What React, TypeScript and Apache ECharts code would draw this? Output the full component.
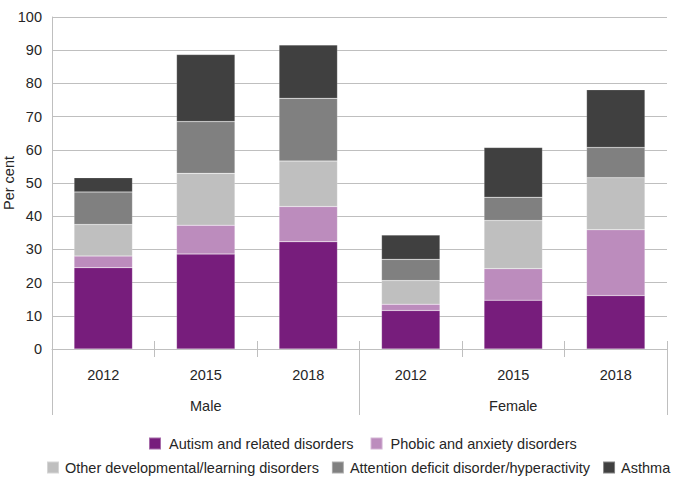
import React, { useEffect, useRef } from "react";
import * as echarts from "echarts";

const years = ["2012", "2015", "2018", "2012", "2015", "2018"];
const groups = ["Male", "Female"];
const seriesNames = [
  "Autism and related disorders",
  "Phobic and anxiety disorders",
  "Other developmental/learning disorders",
  "Attention deficit disorder/hyperactivity",
  "Asthma",
];
const autism = [24.5, 28.6, 32.3, 11.6, 14.7, 16.1];
const phobic = [3.5, 8.7, 10.6, 1.9, 9.5, 19.8];
const otherDev = [9.5, 15.6, 13.7, 7.1, 14.5, 15.7];
const adhd = [9.8, 15.6, 18.9, 6.4, 7.0, 9.1];
const asthma = [4.3, 20.2, 16.1, 7.3, 15.0, 17.4];
const yTicks = { min: 0, max: 100, interval: 10 };

const colors = ["#771d7c", "#bc8cbd", "#bfbfbf", "#808080", "#404040"];
const values = [autism, phobic, otherDev, adhd, asthma];

export default function App() {
  const ref = useRef<HTMLDivElement>(null);
  useEffect(() => {
    if (!ref.current) return;
    const chart = echarts.init(ref.current, null, { renderer: "svg" });
    const font = "'Liberation Sans', Arial, sans-serif";
    const textColor = "#262626";
    const lineColor = "#bfbfbf";
    const fs = 14.5;
    chart.setOption({
      animation: false,
      textStyle: { fontFamily: font },
      grid: { left: 52, right: 8, top: 17, bottom: 129, containLabel: false, outerBoundsMode: "none" },
      legend: [
        {
          data: seriesNames.slice(0, 2),
          top: 436,
          left: 148,
          width: 520,
          padding: 0,
          itemWidth: 12,
          itemHeight: 12,
          itemGap: 16,
          icon: "rect",
          textStyle: { fontSize: fs, color: textColor, fontFamily: font, padding: [0, 0, 0, 3] },
        },
        {
          data: seriesNames.slice(2),
          top: 460,
          left: 46,
          width: 629,
          padding: 0,
          itemWidth: 12,
          itemHeight: 12,
          itemGap: 12,
          icon: "rect",
          textStyle: { fontSize: fs, color: textColor, fontFamily: font, padding: [0, 0, 0, 1] },
        },
      ],
      xAxis: [
        {
          type: "category",
          data: years,
          position: "bottom",
          axisLine: { show: true, lineStyle: { color: lineColor, width: 1 } },
          axisTick: { show: true, length: 8, lineStyle: { color: lineColor } },
          axisLabel: { fontSize: fs, color: textColor, margin: 18, fontFamily: font, interval: 0 },
        },
        {
          type: "category",
          data: years,
          position: "bottom",
          offset: 0,
          axisLine: { show: false },
          axisTick: { show: true, inside: true, length: 8, lineStyle: { color: lineColor } },
          axisLabel: { show: false },
        },
        {
          type: "category",
          data: groups,
          position: "bottom",
          offset: 66,
          axisLine: { show: false },
          axisTick: { show: true, inside: true, length: 66, lineStyle: { color: lineColor } },
          axisLabel: { fontSize: fs, color: textColor, margin: -17, fontFamily: font },
        },
      ],
      yAxis: {
        type: "value",
        min: yTicks.min,
        max: yTicks.max,
        interval: yTicks.interval,
        name: "Per cent",
        nameLocation: "middle",
        nameGap: 36,
        nameRotate: 90,
        nameMoveOverlap: false,
        nameTextStyle: { fontSize: fs, color: textColor, fontFamily: font },
        axisLine: { show: true, lineStyle: { color: lineColor } },
        axisTick: { show: false },
        axisLabel: { fontSize: fs, color: textColor, margin: 10, fontFamily: font },
        splitLine: { show: true, lineStyle: { color: lineColor, width: 1 } },
      },
      series: seriesNames.map((name, i) => ({
        name,
        type: "bar",
        stack: "total",
        xAxisIndex: 0,
        barWidth: "57%",
        data: values[i],
        itemStyle: { color: colors[i], borderColor: "rgba(255,255,255,0.35)", borderWidth: 0.5 },
      })),
    });
    return () => chart.dispose();
  }, []);
  return <div ref={ref} style={{ width: 675, height: 478, position: "absolute", left: 0, top: 0 }} />;
}
